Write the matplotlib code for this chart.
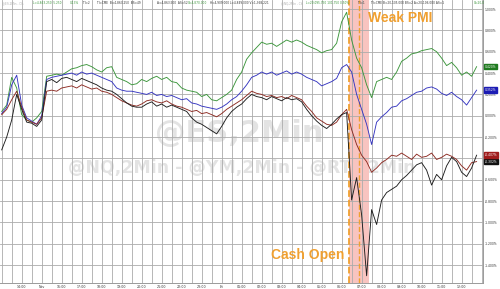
import numpy as np
import matplotlib
matplotlib.use("Agg")
import matplotlib.pyplot as plt

# ---- data (percent change) ----
hours = np.arange(13.0, 36.76, 0.25)  # 13:00 Thu .. 12:45 Fri (Pacific), 15-min samples

nq = [0.04, 0.10, 0.36, 0.26, 0.01, -0.04, -0.06, -0.02, 0.04, 0.37,
      0.38, 0.39, 0.38, 0.41, 0.44, 0.45, 0.47, 0.48, 0.46, 0.43,
      0.41, 0.45, 0.46, 0.36, 0.34, 0.32, 0.29, 0.30, 0.34, 0.32,
      0.35, 0.37, 0.34, 0.36, 0.32, 0.31, 0.26, 0.24, 0.23, 0.22,
      0.18, 0.20, 0.15, 0.14, 0.17, 0.20, 0.24, 0.34, 0.41, 0.53,
      0.59, 0.64, 0.69, 0.67, 0.68, 0.65, 0.68, 0.71, 0.69, 0.71,
      0.69, 0.66, 0.64, 0.62, 0.59, 0.61, 0.62, 0.68, 0.88, 0.97,
      0.71, 0.54, 0.45, 0.29, 0.17, 0.32, 0.34, 0.36, 0.34, 0.41,
      0.51, 0.54, 0.58, 0.59, 0.61, 0.62, 0.63, 0.60, 0.54, 0.47,
      0.50, 0.45, 0.38, 0.41, 0.37, 0.46]

es = [0.02, 0.08, 0.29, 0.38, 0.10, -0.02, -0.05, -0.08, 0.00, 0.34,
      0.36, 0.37, 0.38, 0.39, 0.40, 0.38, 0.41, 0.39, 0.40, 0.38,
      0.36, 0.34, 0.32, 0.26, 0.24, 0.23, 0.23, 0.22, 0.21, 0.20,
      0.22, 0.19, 0.20, 0.18, 0.19, 0.17, 0.15, 0.16, 0.12, 0.11,
      0.09, 0.08, 0.07, 0.06, 0.08, 0.11, 0.15, 0.18, 0.23, 0.29,
      0.36, 0.38, 0.41, 0.39, 0.41, 0.38, 0.40, 0.42, 0.39, 0.41,
      0.39, 0.36, 0.34, 0.32, 0.28, 0.30, 0.32, 0.35, 0.45, 0.48,
      0.41, 0.20, 0.06, -0.08, -0.27, -0.06, -0.01, 0.03, 0.08, 0.09,
      0.14, 0.16, 0.19, 0.22, 0.23, 0.26, 0.27, 0.25, 0.21, 0.19,
      0.22, 0.18, 0.15, 0.10, 0.17, 0.24]

ym = [0.01, 0.06, 0.15, 0.23, 0.08, -0.04, -0.06, -0.08, -0.02, 0.23,
      0.24, 0.23, 0.26, 0.27, 0.28, 0.26, 0.29, 0.27, 0.25, 0.26,
      0.23, 0.22, 0.20, 0.17, 0.14, 0.12, 0.10, 0.09, 0.11, 0.14,
      0.15, 0.13, 0.12, 0.14, 0.11, 0.09, 0.08, 0.06, 0.04, 0.05,
      0.02, 0.03, 0.01, -0.01, 0.02, 0.06, 0.09, 0.12, 0.15, 0.19,
      0.23, 0.21, 0.20, 0.18, 0.19, 0.17, 0.18, 0.16, 0.19, 0.17,
      0.15, 0.09, 0.04, -0.02, -0.05, -0.08, -0.09, -0.06, 0.01, 0.06,
      -0.13, -0.27, -0.37, -0.43, -0.53, -0.49, -0.44, -0.41, -0.37, -0.38,
      -0.35, -0.38, -0.41, -0.36, -0.39, -0.38, -0.35, -0.41, -0.39, -0.36,
      -0.38, -0.41, -0.47, -0.51, -0.44, -0.43]

rty = [-0.32, -0.20, -0.04, 0.20, 0.06, -0.06, -0.07, -0.10, -0.04, 0.32,
       0.34, 0.31, 0.35, 0.36, 0.34, 0.32, 0.35, 0.33, 0.31, 0.29,
       0.26, 0.24, 0.23, 0.20, 0.16, 0.12, 0.09, 0.08, 0.08, 0.11,
       0.13, 0.09, 0.11, 0.08, 0.10, 0.08, 0.06, 0.04, -0.02, -0.06,
       -0.08, -0.11, -0.14, -0.17, -0.10, -0.02, 0.04, 0.08, 0.11, 0.16,
       0.20, 0.18, 0.17, 0.15, 0.18, 0.16, 0.14, 0.17, 0.15, 0.16,
       0.13, 0.06, 0.00, -0.05, -0.09, -0.12, -0.08, -0.03, 0.01, 0.03,
       -0.79, -0.58, -0.93, -1.50, -0.88, -1.02, -0.79, -0.72, -0.69, -0.66,
       -0.60, -0.56, -0.51, -0.46, -0.44, -0.51, -0.65, -0.55, -0.60, -0.47,
       -0.39, -0.43, -0.53, -0.57, -0.49, -0.37]

series_names = ["@NQ", "@ES", "@YM", "@RTY"]
series_colors = ["#3c963c", "#3535c0", "#8c2a22", "#1e1e1e"]
end_box_colors = ["#1f7a1f", "#1c1cb4", "#111111", "#a01c1c"]
end_labels = ["0.420%", "0.352%", "-0.302%", "-0.407%"]

tick_hours = list(range(14, 37))
tick_labels = ["14:00", "Nov", "16:00", "17:00", "18:00", "19:00", "20:00",
               "21:00", "22:00", "23:00", "Fri", "01:00", "02:00", "03:00",
               "04:00", "05:00", "06:00", "07:00", "08:00", "09:00", "10:00",
               "11:00", "12:00"]
y_ticks = [1.0, 0.8, 0.6, 0.4, 0.2, 0.0, -0.2, -0.4, -0.6, -0.8, -1.0, -1.2, -1.4]
y_tick_labels = ["1.000%", "0.800%", "0.600%", "0.400%", "0.200%", "0.000%",
                 "-0.200%", "-0.400%", "-0.600%", "-0.800%", "-1.000%",
                 "-1.200%", "-1.400%"]

event_times = [30.37, 30.88]
event_labels = ["Cash Open", "Weak PMI"]
shade_span = (30.37, 31.38)

# ---- figure ----
fig = plt.figure(figsize=(5.0, 2.89), dpi=100, facecolor="white")
ax = fig.add_axes([0.0, 6 / 289, 483 / 500, 283 / 289])
ax.set_facecolor("white")
ax.set_xlim(12.915, 37.07)
ax.set_ylim(-1.568, 1.085)

# grid
ax.set_xticks(np.arange(13.0, 37.01, 0.5), minor=True)
ax.set_xticks(tick_hours)
ax.set_xticklabels(tick_labels, fontsize=2.3, color="#333333")
ax.set_yticks(y_ticks)
ax.set_yticklabels(y_tick_labels, fontsize=2.2, color="#333333")
ax.yaxis.tick_right()
ax.tick_params(axis="both", which="both", length=0, pad=1.2)
ax.grid(True, which="both", color="#ababab", lw=0.6, zorder=0)
for s in ["left", "top"]:
    ax.spines[s].set_visible(False)
for s in ["right", "bottom"]:
    ax.spines[s].set_color("#9a9a9a")
    ax.spines[s].set_linewidth(0.7)

# watermarks
ax.text(0.495, 0.53, "@ES,2Min", transform=ax.transAxes, fontsize=22,
        fontweight="bold", color="#e3e3e3", ha="center", va="center", zorder=1)
ax.text(0.50, 0.405, "@NQ,2Min - @YM,2Min - @RTY,2Min", transform=ax.transAxes,
        fontsize=12.5, fontweight="bold", color="#e3e3e3", ha="center",
        va="center", zorder=1)

# event shading / lines
ax.axvspan(shade_span[0], shade_span[1], color="#f8c4c0", zorder=1.5, lw=0)
ax.axvline(event_times[0], color="#f0a030", ls="--", lw=1.3, zorder=2)
ax.axvline(event_times[1], color="#f0a030", ls="--", lw=1.0, zorder=2)
ax.text(event_times[0] - 0.22, -1.306, event_labels[0], fontsize=10,
        fontweight="bold", color="#f0a030", ha="right", va="center",
        family=["Liberation Sans", "DejaVu Sans"], zorder=4)
ax.text(31.32, 0.915, event_labels[1], fontsize=10, fontweight="bold",
        color="#f0a030", ha="left", va="center",
        family=["Liberation Sans", "DejaVu Sans"], zorder=4)

# series
for vals, col in zip([nq, es, ym, rty], series_colors):
    ax.plot(hours, vals, color=col, lw=0.65, zorder=3)

# end-value boxes
for vals, col, lab in zip([nq, es, ym, rty], end_box_colors, end_labels):
    ax.annotate(lab, xy=(1.0, vals[-1]), xycoords=("axes fraction", "data"),
                xytext=(1.5, 0), textcoords="offset points", fontsize=2.2,
                color="white", ha="left", va="center", annotation_clip=False,
                bbox=dict(boxstyle="square,pad=0.25", fc=col, ec=col))

# header text strip
hdr = [
    (0.004, "@ES,2Min - Cls", "#b0b0b0"),
    (0.068, "L=4,863.250  5.250", "#3c963c"),
    (0.145, "0.13%", "#3c963c"),
    (0.172, "TI=2", "#333333"),
    (0.200, "TI=CME  B=4,863.250  BS=49", "#333333"),
    (0.325, "A=4,863.500  AS=52", "#333333"),
    (0.390, "O=4,870.000", "#3c963c"),
    (0.435, "H=4,909.000 L=4,849.000 V=1,368,221", "#333333"),
    (0.582, "@NQ,2Min - Cls", "#b0b0b0"),
    (0.634, "L=20,095.750 101.750 0.50%", "#3c963c"),
    (0.742, "TI=1", "#333333"),
    (0.768, "TI=CME B=20,105.000 BS=2 A=20,106.000 AS=1", "#333333"),
    (0.982, "O=20,0", "#3c963c"),
]
for xf, txt, col in hdr:
    ax.text(xf, 0.989, txt, transform=ax.transAxes, fontsize=2.1, color=col,
            ha="left", va="center", zorder=5, clip_on=False)

fig.savefig("out.png", dpi=100, facecolor="white")
